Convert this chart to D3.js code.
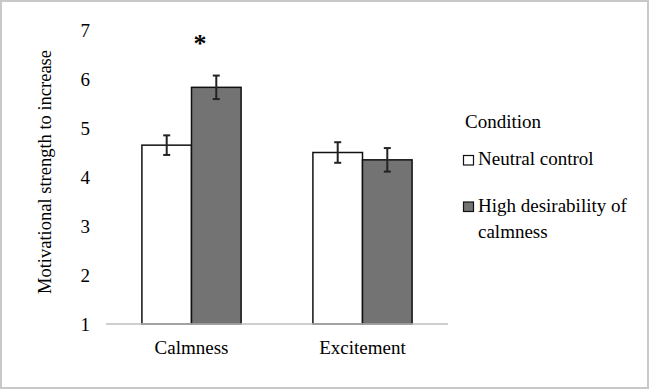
<!DOCTYPE html>
<html>
<head>
<meta charset="utf-8">
<script src="https://cdn.jsdelivr.net/npm/d3@7"></script>
<style>
  body { margin: 0; background: #fff; }
</style>
</head>
<body>
<div id="chart"></div>
<script>
// data
const categories = ['Calmness', 'Excitement'];
const conditions = ['Neutral control', 'High desirability of calmness'];
const means = [[4.65, 5.83], [4.50, 4.35]];   // [category][condition]
const errors = [[0.20, 0.24], [0.21, 0.24]];
const yTicks = [1, 2, 3, 4, 5, 6, 7];
const colors = ['#ffffff', '#737373'];

const FONT = "'Liberation Serif'";

let W = 649, H = 389;

let svg = d3.select('#chart').append('svg')
  .attr('width', W)
  .attr('height', H)
  .style('display', 'block');

// outer frame
svg.append('rect')
  .attr('x', 1).attr('y', 1)
  .attr('width', W - 2).attr('height', H - 2)
  .attr('fill', 'none')
  .attr('stroke', '#c8c8c8')
  .attr('stroke-width', 2);

let y = d3.scaleLinear()
  .domain([1, 7])
  .range([324, 30]);

let x0 = d3.scaleBand()
  .domain(categories)
  .range([106, 448])
  .paddingInner(0.42)
  .paddingOuter(0.21);

let x1 = d3.scaleBand()
  .domain(conditions)
  .range([0, x0.bandwidth()]);

// y tick labels (no axis line)
let yAxis = svg.append('g')
  .attr('transform', 'translate(90,0)')
  .call(d3.axisLeft(y).tickValues(yTicks).tickFormat(d3.format('d')).tickSize(0).tickPadding(0));
yAxis.attr('font-family', null).attr('font-size', null);
yAxis.select('.domain').remove();
yAxis.selectAll('text')
  .attr('fill', '#000')
  .style('font-family', FONT)
  .style('font-size', '19px');

// bars
let groups = svg.selectAll('.cat')
  .data(categories)
  .enter()
  .append('g')
    .attr('transform', d => 'translate(' + x0(d) + ',0)');

groups.selectAll('rect')
  .data((d, i) => conditions.map((c, j) => ({c: c, v: means[i][j], e: errors[i][j], j: j})))
  .enter()
  .append('rect')
    .attr('x', d => x1(d.c))
    .attr('y', d => y(d.v))
    .attr('width', x1.bandwidth())
    .attr('height', d => y(1) - y(d.v))
    .attr('fill', d => colors[d.j])
    .attr('stroke', '#111')
    .attr('stroke-width', 1.5);

// error bars
let eb = groups.selectAll('.err')
  .data((d, i) => conditions.map((c, j) => ({c: c, v: means[i][j], e: errors[i][j]})))
  .enter()
  .append('g')
    .attr('stroke', '#222')
    .attr('stroke-width', 2);

eb.append('line')
  .attr('x1', d => x1(d.c) + x1.bandwidth() / 2)
  .attr('x2', d => x1(d.c) + x1.bandwidth() / 2)
  .attr('y1', d => y(d.v + d.e))
  .attr('y2', d => y(d.v - d.e));
eb.selectAll('.cap')
  .data(d => [d.v + d.e, d.v - d.e].map(v => ({c: d.c, v: v})))
  .enter()
  .append('line')
    .attr('x1', d => x1(d.c) + x1.bandwidth() / 2 - 3.5)
    .attr('x2', d => x1(d.c) + x1.bandwidth() / 2 + 3.5)
    .attr('y1', d => y(d.v))
    .attr('y2', d => y(d.v));

// baseline
svg.append('line')
  .attr('x1', 106).attr('x2', 448)
  .attr('y1', y(1)).attr('y2', y(1))
  .attr('stroke', '#bfbfbf')
  .attr('stroke-width', 1.5);

// category labels
svg.selectAll('.catlab')
  .data(categories)
  .enter()
  .append('text')
    .attr('x', d => x0(d) + x0.bandwidth() / 2)
    .attr('y', 354)
    .attr('text-anchor', 'middle')
    .style('font-family', FONT)
    .style('font-size', '19px')
    .text(d => d);

// significance star
svg.append('text')
  .attr('x', 200)
  .attr('y', 52)
  .attr('text-anchor', 'middle')
  .style('font-family', FONT)
  .style('font-size', '26px')
  .style('font-weight', 'bold')
  .text('*');

// y axis title
svg.append('text')
  .attr('transform', 'translate(51,172) rotate(-90)')
  .attr('text-anchor', 'middle')
  .style('font-family', FONT)
  .style('font-size', '18.5px')
  .text('Motivational strength to increase');

// legend
svg.append('text')
  .attr('x', 465)
  .attr('y', 128)
  .style('font-family', FONT)
  .style('font-size', '19px')
  .text('Condition');

let leg = svg.selectAll('.leg')
  .data(conditions)
  .enter()
  .append('g')
    .attr('transform', (d, i) => 'translate(463,' + (155 + i * 46.5) + ')');

leg.append('rect')
  .attr('x', 0.5).attr('y', 0.5)
  .attr('width', 10).attr('height', 9.5)
  .attr('fill', (d, i) => colors[i])
  .attr('stroke', '#111')
  .attr('stroke-width', 1.2);

leg.append('text')
  .attr('y', 10)
  .style('font-family', FONT)
  .style('font-size', '19px')
  .each(function(d) {
    let t = d3.select(this);
    let lines = d === 'High desirability of calmness' ? ['High desirability of', 'calmness'] : [d];
    lines.forEach((l, k) => t.append('tspan').attr('x', 15).attr('dy', k ? 26 : 0).text(l));
  });
</script>
</body>
</html>
